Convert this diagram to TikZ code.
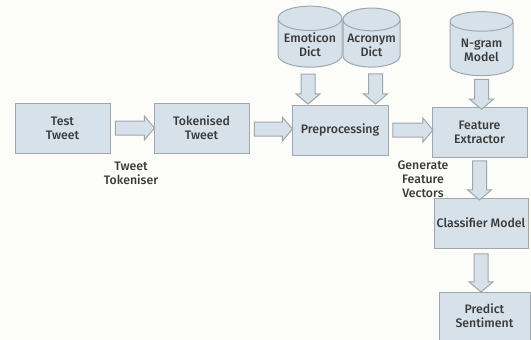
\documentclass[tikz,border=0pt]{standalone}
\usepackage{fontspec}
\setmainfont{Fira Sans}[BoldFont={* Medium}]
\usetikzlibrary{shapes.geometric,shapes.arrows}
\definecolor{boxfill}{HTML}{D6E1E9}
\definecolor{boxline}{HTML}{9EA7AD}
\definecolor{txt}{HTML}{3A3A3A}
\definecolor{paper}{HTML}{FCFCF9}
\tikzset{
  box/.style={draw=boxline, fill=boxfill, line width=1pt, text=txt, align=center,
    minimum width=95pt, minimum height=50pt, inner sep=2pt, font=\fontsize{12.3}{14}\selectfont\bfseries},
  db/.style={draw=boxline, fill=boxfill, line width=1pt, text=txt, align=center,
    shape=cylinder, shape border rotate=90, aspect=0.45, inner sep=1pt,
    font=\fontsize{12.3}{14}\selectfont\bfseries},
  fatarrow/.style={draw=boxline, fill=boxfill, line width=1pt, shape=single arrow,
    inner xsep=0pt, inner ysep=6.5pt, single arrow head extend=5pt, single arrow tip angle=100},
  lbl/.style={text=txt, align=center, font=\fontsize{12.3}{14}\selectfont\bfseries}
}
\begin{document}
\begin{tikzpicture}[x=1pt,y=-1pt]
\useasboundingbox[fill=paper] (0,0) rectangle (531,340);
% boxes
\node[box] (test) at (62.5,128) {Test\\Tweet};
\node[box] (tok) at (201.5,128) {Tokenised\\Tweet};
\node[box, minimum width=96pt] (pre) at (340,130) {Preprocessing};
\node[box] (feat) at (479.5,132) {Feature\\Extractor};
\node[box, minimum width=94pt] (class) at (481,223) {Classifier Model};
\node[box, minimum width=91pt, minimum height=48pt] (pred) at (484.5,316) {Predict\\Sentiment};
% dictionaries and model
\node[db, minimum width=64pt, minimum height=61pt] (emo) at (310,44.5) {Emoticon\\Dict};
\node[db, minimum width=57pt, minimum height=59pt] (acr) at (371.5,45) {Acronym\\Dict};
\node[db, minimum width=63pt, minimum height=64pt] (ngram) at (481.5,50) {N-gram\\Model};
% block arrows
\path (test.east) -- node[fatarrow, minimum height=39pt] {} (tok.west);
\path (tok.east) -- node[fatarrow, minimum height=38pt] {} (pre.west);
\path (pre.east) -- node[fatarrow, minimum height=40pt] {} (pre.east -| feat.west);
\path ([xshift=-2pt]emo.south) -- node[fatarrow, rotate=-90, minimum height=30pt] {} ([xshift=-2pt]emo.south |- pre.north);
\path ([xshift=4pt]acr.south) -- node[fatarrow, rotate=-90, minimum height=30pt] {} ([xshift=4pt]acr.south |- pre.north);
\path (ngram.south) -- node[fatarrow, rotate=-90, minimum height=30pt] {} (ngram.south |- feat.north);
\path (feat.south) -- node[fatarrow, rotate=-90, minimum height=39pt] {} (feat.south |- class.north);
\path (class.south) -- node[fatarrow, rotate=-90, minimum height=38pt] {} (class.south |- pred.north);
% labels
\node[lbl] (tokeniser) at (131,173) {Tweet\\Tokeniser};
\node[lbl] (vectors) at (423,179) {Generate\\Feature\\Vectors};
\end{tikzpicture}
\end{document}
